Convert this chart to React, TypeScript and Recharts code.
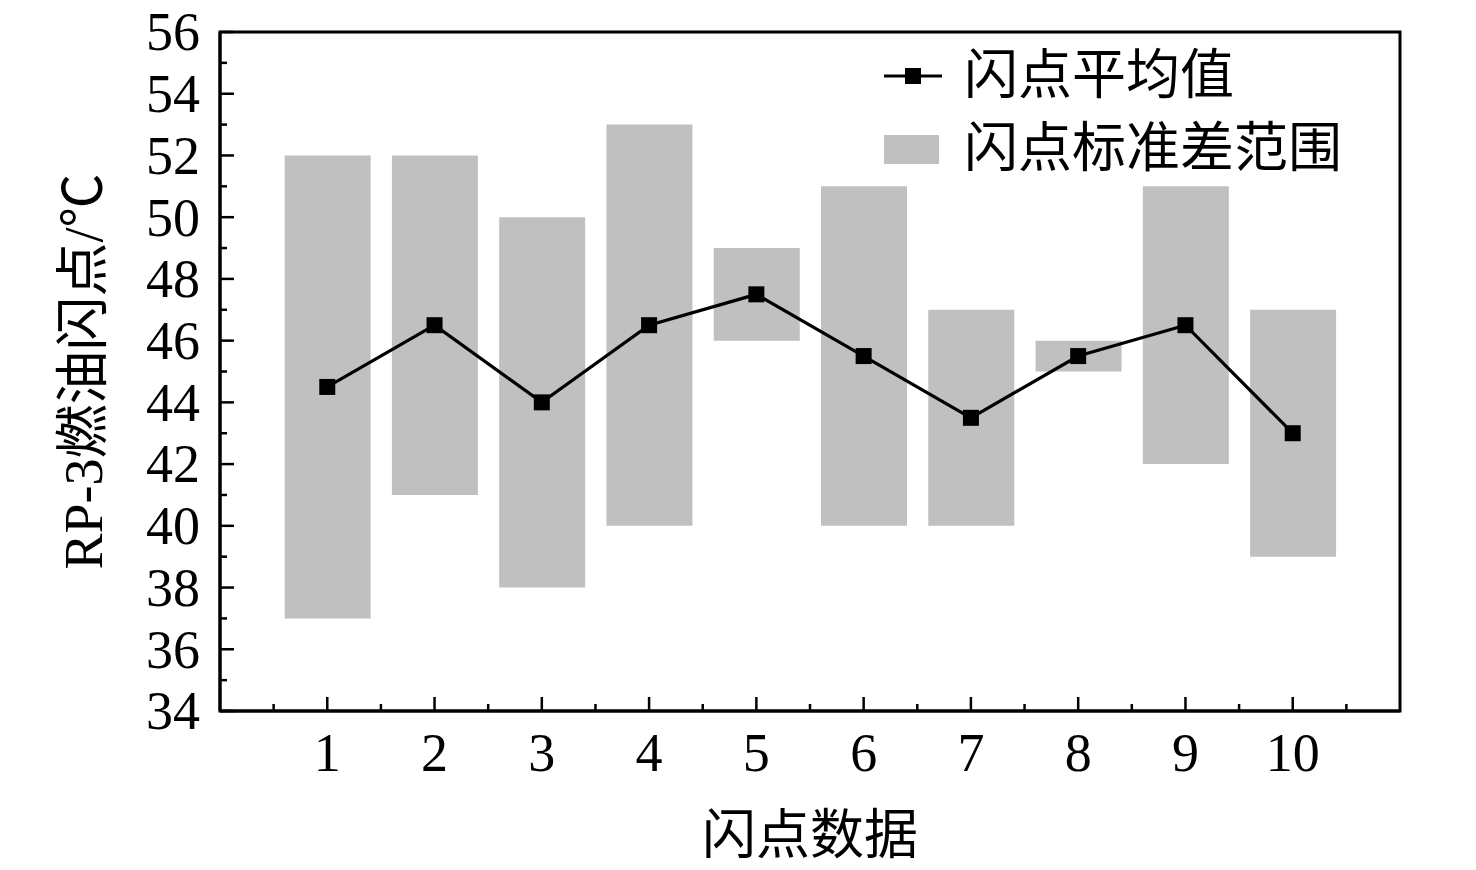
import React from 'react'
import {
  ComposedChart,
  Bar,
  Line,
  XAxis,
  YAxis,
  ReferenceArea,
  Legend,
} from 'recharts'

const categories = [1, 2, 3, 4, 5, 6, 7, 8, 9, 10]
const meanValues = [44.5, 46.5, 44, 46.5, 47.5, 45.5, 43.5, 45.5, 46.5, 43]
const lowValues = [37, 41, 38, 40, 46, 40, 40, 45, 42, 39]
const highValues = [52, 52, 50, 53, 49, 51, 47, 46, 51, 47]

const xTicks = [0.5, 1, 1.5, 2, 2.5, 3, 3.5, 4, 4.5, 5, 5.5, 6, 6.5, 7, 7.5, 8, 8.5, 9, 9.5, 10, 10.5]
const yTicks = [34, 35, 36, 37, 38, 39, 40, 41, 42, 43, 44, 45, 46, 47, 48, 49, 50, 51, 52, 53, 54, 55, 56]

const FONT = '"Liberation Serif", "Times New Roman", "Noto Sans CJK SC", serif'
const GREY = '#c0c0c0'

const data = categories.map((c, i) => ({
  n: c,
  mean: meanValues[i],
  range: [lowValues[i], highValues[i]] as [number, number],
}))

function XTick({ x, y, payload }: any) {
  const major = Number.isInteger(payload.value)
  return (
    <g>
      <line x1={x} x2={x} y1={y} y2={y - (major ? 14 : 7)} stroke="#000" strokeWidth={2.5} />
      {major && (
        <text x={x} y={y + 60} textAnchor="middle" fontFamily={FONT} fontSize={54} fill="#000">
          {payload.value}
        </text>
      )}
    </g>
  )
}

function YTick({ x, y, payload }: any) {
  const major = payload.value % 2 === 0
  return (
    <g>
      <line x1={x} x2={x + (major ? 14 : 7)} y1={y} y2={y} stroke="#000" strokeWidth={2.5} />
      {major && (
        <text x={x - 20} y={y} dy="0.34em" textAnchor="end" fontFamily={FONT} fontSize={54} fill="#000">
          {payload.value}
        </text>
      )}
    </g>
  )
}

function SquareDot({ cx, cy }: any) {
  if (cx == null || cy == null) return null
  return <rect x={cx - 8} y={cy - 8} width={16} height={16} fill="#000" />
}

function LegendBox() {
  const text: React.CSSProperties = { fontFamily: FONT, fontSize: 54, lineHeight: '60px', color: '#000' }
  return (
    <div style={{ display: 'flex', flexDirection: 'column', gap: 13 }}>
      <div style={{ display: 'flex', alignItems: 'center' }}>
        <svg width={58} height={20} style={{ marginRight: 22 }}>
          <line x1={0} x2={58} y1={10} y2={10} stroke="#000" strokeWidth={3} />
          <rect x={21} y={2} width={16} height={16} fill="#000" />
        </svg>
        <span style={text}>闪点平均值</span>
      </div>
      <div style={{ display: 'flex', alignItems: 'center' }}>
        <div style={{ width: 55, height: 29, background: GREY, marginRight: 25 }} />
        <span style={text}>闪点标准差范围</span>
      </div>
    </div>
  )
}

function YTitle({ viewBox }: any) {
  const cx = viewBox.x + 84
  const cy = viewBox.y + viewBox.height / 2
  return (
    <text
      x={cx}
      y={cy}
      transform={`rotate(-90 ${cx} ${cy})`}
      textAnchor="middle"
      dominantBaseline="central"
      fontFamily={FONT}
      fontSize={54}
      fill="#000"
    >
      RP-3燃油闪点/℃
    </text>
  )
}

export default function App() {
  return (
    <div style={{ width: 1476, height: 870, background: '#fff' }}>
      <style>{'body{margin:0;background:#fff}'}</style>
      <ComposedChart
        width={1476}
        height={870}
        data={data}
        margin={{ top: 32, right: 76, left: 0, bottom: 0 }}
      >
        <XAxis
          dataKey="n"
          type="number"
          domain={[0, 11]}
          ticks={xTicks}
          interval={0}
          tick={<XTick />}
          tickLine={false}
          tickSize={0}
          tickMargin={0}
          height={159}
          axisLine={{ stroke: '#000', strokeWidth: 3 }}
          allowDecimals
          label={{
            value: '闪点数据',
            position: 'insideBottom',
            offset: 16,
            fontFamily: FONT,
            fontSize: 54,
            fill: '#000',
          }}
        />
        <YAxis
          type="number"
          domain={[34, 56]}
          ticks={yTicks}
          interval={0}
          tick={<YTick />}
          tickLine={false}
          tickSize={0}
          tickMargin={0}
          width={220}
          axisLine={{ stroke: '#000', strokeWidth: 3 }}
          allowDataOverflow
          label={{ content: <YTitle /> }}
        />
        <Legend
          layout="horizontal"
          verticalAlign="middle"
          align="center"
          content={<LegendBox />}
          wrapperStyle={{ position: 'absolute', left: 884, top: 46, width: 500 }}
        />
        <Bar
          dataKey="range"
          name="闪点标准差范围"
          fill={GREY}
          barSize={86}
          isAnimationActive={false}
        />
        <Line
          dataKey="mean"
          name="闪点平均值"
          type="linear"
          stroke="#000"
          strokeWidth={3.2}
          dot={<SquareDot />}
          activeDot={false}
          isAnimationActive={false}
        />
        <ReferenceArea
          x1={0}
          x2={11}
          y1={34}
          y2={56}
          fill="none"
          stroke="#000"
          strokeWidth={3}
          fillOpacity={0}
        />
      </ComposedChart>
    </div>
  )
}
